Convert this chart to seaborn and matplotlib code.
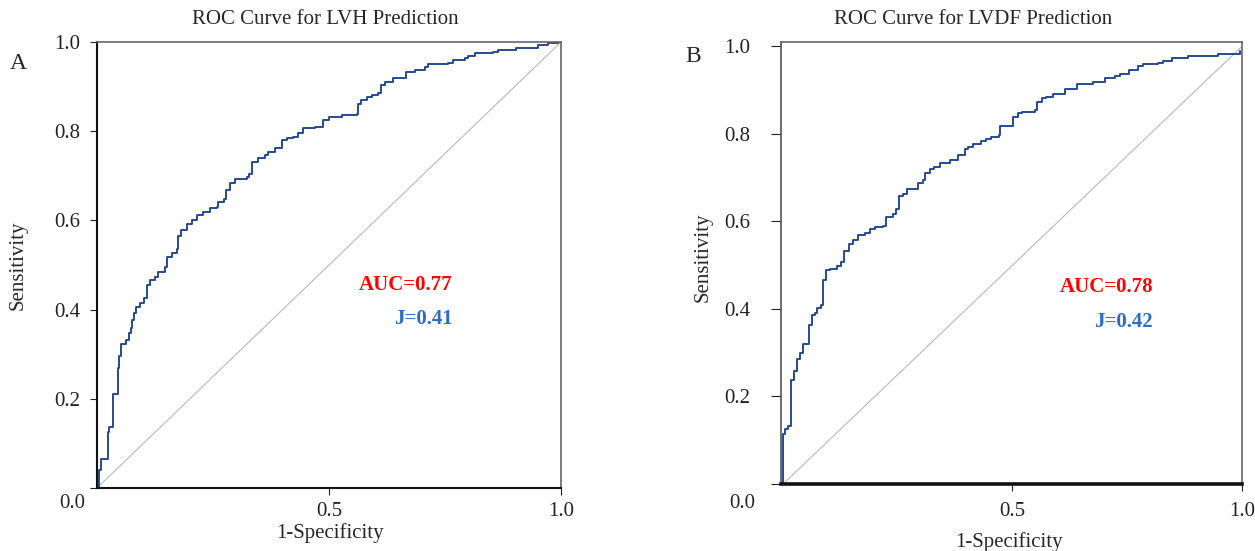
import numpy as np
import pandas as pd
import seaborn as sns
import matplotlib
matplotlib.use("Agg")
import matplotlib.pyplot as plt

# ROC curve vertices (1-specificity, sensitivity)
fpr_lvh = [0.0, 0.004, 0.009, 0.023, 0.026, 0.035, 0.045, 0.047, 0.052, 0.062, 0.068,
           0.073, 0.076, 0.080, 0.085, 0.093, 0.102, 0.107, 0.114, 0.125, 0.132, 0.147,
           0.150, 0.161, 0.172, 0.175, 0.182, 0.193, 0.204, 0.215, 0.229, 0.244, 0.258,
           0.261, 0.274, 0.278, 0.287, 0.297, 0.323, 0.328, 0.333, 0.348, 0.362, 0.369,
           0.384, 0.398, 0.409, 0.423, 0.434, 0.445, 0.470, 0.488, 0.499, 0.513, 0.527,
           0.560, 0.563, 0.570, 0.581, 0.592, 0.606, 0.613, 0.620, 0.638, 0.667, 0.685,
           0.707, 0.714, 0.757, 0.768, 0.793, 0.800, 0.815, 0.854, 0.865, 0.904, 0.951,
           0.973, 0.994, 1.0]
tpr_lvh = [0.0, 0.040, 0.066, 0.126, 0.136, 0.210, 0.268, 0.295, 0.323, 0.332, 0.347,
           0.358, 0.377, 0.392, 0.407, 0.414, 0.425, 0.455, 0.466, 0.474, 0.485, 0.496,
           0.519, 0.526, 0.537, 0.564, 0.578, 0.593, 0.601, 0.612, 0.620, 0.627, 0.631,
           0.642, 0.647, 0.668, 0.683, 0.694, 0.698, 0.705, 0.732, 0.740, 0.747, 0.754,
           0.762, 0.780, 0.784, 0.788, 0.795, 0.807, 0.810, 0.825, 0.831, 0.833, 0.836,
           0.838, 0.862, 0.869, 0.877, 0.881, 0.885, 0.904, 0.911, 0.920, 0.932, 0.937,
           0.945, 0.950, 0.952, 0.960, 0.965, 0.969, 0.975, 0.978, 0.982, 0.986, 0.993,
           0.997, 1.0, 1.0]

fpr_lvdf = [0.0, 0.005, 0.011, 0.018, 0.024, 0.031, 0.038, 0.044, 0.056, 0.062, 0.069,
            0.075, 0.082, 0.087, 0.094, 0.102, 0.118, 0.127, 0.132, 0.143, 0.153, 0.163,
            0.179, 0.189, 0.200, 0.218, 0.225, 0.240, 0.247, 0.252, 0.261, 0.271, 0.294,
            0.305, 0.309, 0.320, 0.330, 0.341, 0.363, 0.381, 0.396, 0.403, 0.414, 0.432,
            0.443, 0.454, 0.470, 0.472, 0.502, 0.513, 0.520, 0.549, 0.553, 0.564, 0.574,
            0.589, 0.614, 0.640, 0.676, 0.702, 0.724, 0.734, 0.753, 0.774, 0.785, 0.818,
            0.828, 0.847, 0.883, 0.948, 0.996]
tpr_lvdf = [0.114, 0.125, 0.133, 0.238, 0.258, 0.285, 0.300, 0.320, 0.363, 0.386, 0.390,
            0.403, 0.410, 0.465, 0.488, 0.491, 0.498, 0.508, 0.533, 0.548, 0.557, 0.570,
            0.573, 0.582, 0.587, 0.590, 0.611, 0.617, 0.628, 0.658, 0.663, 0.673, 0.688,
            0.695, 0.710, 0.720, 0.725, 0.733, 0.740, 0.752, 0.765, 0.770, 0.776, 0.783,
            0.788, 0.793, 0.797, 0.818, 0.838, 0.848, 0.851, 0.855, 0.874, 0.881, 0.885,
            0.891, 0.902, 0.915, 0.919, 0.927, 0.932, 0.936, 0.945, 0.955, 0.959, 0.962,
            0.966, 0.974, 0.979, 0.983, 0.990]

titles = ["ROC Curve for LVH Prediction", "ROC Curve for LVDF Prediction"]
panel_tags = ["A", "B"]
auc_labels = ["AUC=0.77", "AUC=0.78"]
j_labels = ["J=0.41", "J=0.42"]

sns.set_style("ticks")
plt.rcParams["font.family"] = ["Liberation Serif", "DejaVu Serif"]

curve_col = "#284b8f"
fig = plt.figure(figsize=(12.55, 5.51), dpi=100)
axA = fig.add_axes([0.0773, 0.1143, 0.3697, 0.8094])
axB = fig.add_axes([0.6223, 0.1216, 0.3673, 0.8022])

df_a = pd.DataFrame({"fpr": fpr_lvh, "tpr": tpr_lvh})
# panel B curve starts with a vertical jump at x=0
df_b = pd.DataFrame({"fpr": [0.0] + fpr_lvdf, "tpr": [0.0] + tpr_lvdf})

for ax, df in [(axA, df_a), (axB, df_b)]:
    sns.lineplot(x=[0, 1], y=[0, 1], color="#b8b8b8", lw=0.8, ax=ax)
    sns.lineplot(data=df, x="fpr", y="tpr", estimator=None, sort=False,
                 drawstyle="steps-post", color=curve_col, lw=1.4, ax=ax)

axA.set_xlim(0, 1.0)
axA.set_ylim(0, 1.0)
axB.set_xlim(-0.0045, 1.0)
axB.set_ylim(0, 1.01)

for i, ax in enumerate([axA, axB]):
    ax.set_xticks([0.5, 1.0])
    ax.set_xticklabels(["0.5", "1.0"])
    ax.set_yticks([0, 0.2, 0.4, 0.6, 0.8, 1.0])
    ax.set_yticklabels(["", "0.2", "0.4", "0.6", "0.8", "1.0"])
    ax.tick_params(axis="both", labelsize=15, colors="#222222", length=5, width=0.8)
    ax.set_xlabel("1-Specificity", fontsize=15)
    ax.set_ylabel("Sensitivity", fontsize=15)
    for s in ["top", "right"]:
        ax.spines[s].set_color("#666666")
        ax.spines[s].set_linewidth(1.2)

axA.tick_params(axis="x", pad=5)
axB.tick_params(axis="x", pad=8)
axA.tick_params(axis="y", pad=7)
axB.tick_params(axis="y", pad=15, length=7)
axA.spines["left"].set_color("#111111")
axA.spines["bottom"].set_color("#111111")
axA.spines["left"].set_linewidth(1.5)
axA.spines["bottom"].set_linewidth(1.5)
axB.spines["left"].set_color("#555555")
axB.spines["left"].set_linewidth(1.2)
axB.spines["bottom"].set_color("#111111")
axB.spines["bottom"].set_linewidth(2.6)

axA.yaxis.set_label_coords(-0.149, 0.5)
axB.yaxis.set_label_coords(-0.148, 0.513)
axA.xaxis.set_label_coords(0.502, -0.078)
axB.xaxis.set_label_coords(0.495, -0.108)

# AUC and Youden index
axA.text(0.767, 0.456, auc_labels[0], color="#ff0000", fontsize=15, fontweight="bold",
         ha="right", va="center")
axA.text(0.767, 0.380, j_labels[0], color="#2e6bc6", fontsize=15, fontweight="bold",
         ha="right", va="center")
axB.text(0.806, 0.449, auc_labels[1], color="#ff0000", fontsize=15, fontweight="bold",
         ha="right", va="center")
axB.text(0.806, 0.371, j_labels[1], color="#2e6bc6", fontsize=15, fontweight="bold",
         ha="right", va="center")

# titles, panel tags and shared origin labels
fig.text(325 / 1255, 1 - 20 / 551, titles[0], fontsize=15, ha="center", va="center")
fig.text(973 / 1255, 1 - 20 / 551, titles[1], fontsize=15, ha="center", va="center")
fig.text(10 / 1255, 1 - 64 / 551, panel_tags[0], fontsize=17, ha="left", va="center")
fig.text(685 / 1255, 1 - 57 / 551, panel_tags[1], fontsize=17, ha="left", va="center")
fig.text(85 / 1255, 1 - 503 / 551, "0.0", fontsize=15, ha="right", va="center")
fig.text(755 / 1255, 1 - 503 / 551, "0.0", fontsize=15, ha="right", va="center")

fig.savefig("out.png", dpi=100, facecolor="white")
